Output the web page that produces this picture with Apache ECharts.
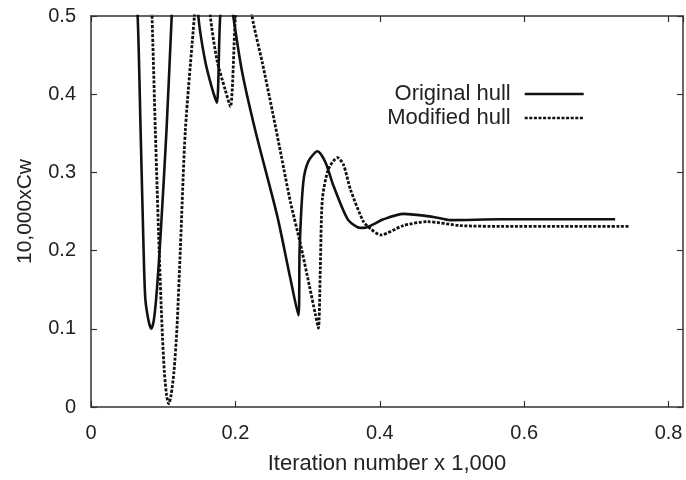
<!DOCTYPE html>
<html>
<head>
<meta charset="utf-8">
<script src="https://cdn.jsdelivr.net/npm/echarts@6/dist/echarts.min.js"></script>
<style>
  html, body { margin: 0; padding: 0; background: #fff; }
  #main { width: 686px; height: 480px; }
</style>
</head>
<body>
<div id="main"></div>
<script>
// iteration number (x 1,000) and 10,000 x Cw
// points above 0.5 are off the plot and get clipped
var origX = [0.0564, 0.0646, 0.0687, 0.0728, 0.0752, 0.0798, 0.0836, 0.0872, 0.0913, 0.0964, 0.1046, 0.1118, 0.118,
  0.130, 0.1426, 0.1487, 0.158, 0.1672, 0.1744, 0.179, 0.188, 0.197, 0.209, 0.228, 0.2578, 0.276, 0.2873,
  0.289, 0.294, 0.301, 0.3137, 0.3247, 0.3358, 0.355, 0.369, 0.3774, 0.405, 0.433, 0.4744, 0.498, 0.567, 0.637, 0.726];
var origY = [0.62, 0.50, 0.354, 0.203, 0.139, 0.110, 0.100, 0.112, 0.150, 0.22, 0.354, 0.50, 0.62,
  0.70, 0.62, 0.50, 0.443, 0.409, 0.389, 0.50, 0.56, 0.50, 0.43, 0.352, 0.245, 0.165, 0.117,
  0.203, 0.287, 0.314, 0.327, 0.313, 0.283, 0.241, 0.230, 0.229, 0.240, 0.247, 0.243, 0.239, 0.240, 0.240, 0.240];

var modX = [0.080, 0.0845, 0.0891, 0.0944, 0.0985, 0.1016, 0.1047, 0.1076, 0.1109, 0.1149, 0.119, 0.1238, 0.1307, 0.1432,
  0.150, 0.158, 0.1653, 0.1746, 0.1861, 0.1931, 0.200, 0.207, 0.214, 0.2231, 0.2374, 0.2513, 0.2638, 0.2763, 0.2902,
  0.3025, 0.3109, 0.315, 0.3177, 0.3205, 0.3288, 0.3413, 0.3497, 0.3594, 0.3774, 0.3871, 0.401, 0.4328, 0.4657,
  0.5118, 0.567, 0.65, 0.745];
var modY = [0.60, 0.50, 0.354, 0.20, 0.10, 0.045, 0.015, 0.004, 0.015, 0.045, 0.10, 0.203, 0.354, 0.50,
  0.58, 0.60, 0.50, 0.443, 0.405, 0.384, 0.50, 0.58, 0.58, 0.50, 0.44, 0.378, 0.32, 0.262, 0.208,
  0.155, 0.118, 0.101, 0.18, 0.266, 0.304, 0.319, 0.31, 0.278, 0.237, 0.228, 0.220, 0.232, 0.237,
  0.232, 0.231, 0.231, 0.231];

var seriesNames = ['Original hull', 'Modified hull'];
var xTicks = [0, 0.2, 0.4, 0.6, 0.8];
var yTicks = [0, 0.1, 0.2, 0.3, 0.4, 0.5];

function pairs(xs, ys) {
  var out = [];
  for (var i = 0; i < xs.length; i++) out.push([xs[i], ys[i]]);
  return out;
}

var font = '"Liberation Sans", Arial, Helvetica, sans-serif';
var frame = { show: true, onZero: false, lineStyle: { color: '#333', width: 1.5 } };
var ticksIn = { show: true, inside: true, length: 6, lineStyle: { color: '#333', width: 1.2 } };

var myChart = echarts.init(document.getElementById('main'), null, { renderer: 'canvas' });
myChart.setOption({
  backgroundColor: '#fff',
  animation: false,
  textStyle: { fontFamily: font },
  grid: { left: 91, right: 3, top: 16, bottom: 70 },
  legend: {
    orient: 'vertical',
    align: 'right',
    right: 96,
    top: 78,
    itemWidth: 59,
    itemHeight: 14,
    itemGap: 2,
    // hide the marker dot, keep only the line sample
    itemStyle: { color: 'rgba(0,0,0,0)', borderWidth: 0, opacity: 0 },
    lineStyle: { width: 2.6 },
    textStyle: { fontSize: 22, color: '#222', fontFamily: font, padding: [0, 9, 0, 0] },
    data: seriesNames
  },
  xAxis: [
    {
      type: 'value', position: 'bottom', min: 0, max: 0.82, interval: 0.2,
      name: 'Iteration number x 1,000', nameLocation: 'middle', nameGap: 46,
      nameTextStyle: { fontSize: 22, color: '#222', fontFamily: font },
      axisLine: frame, axisTick: ticksIn, splitLine: { show: false },
      axisLabel: {
        fontSize: 20, color: '#222', margin: 16, showMaxLabel: false,
        formatter: function (v) { return xTicks.indexOf(+v.toFixed(1)) >= 0 ? String(+v.toFixed(1)) : ''; }
      }
    },
    {
      type: 'value', position: 'top', min: 0, max: 0.82, interval: 0.2,
      axisLine: frame, axisTick: ticksIn, axisLabel: { show: false }, splitLine: { show: false }
    }
  ],
  yAxis: [
    {
      type: 'value', position: 'left', min: 0, max: 0.5, interval: 0.1,
      name: '10,000xCw', nameLocation: 'middle', nameGap: 55,
      nameTextStyle: { fontSize: 21, color: '#222', fontFamily: font },
      axisLine: frame, axisTick: ticksIn, splitLine: { show: false },
      axisLabel: {
        fontSize: 20, color: '#222', margin: 15,
        formatter: function (v) { return yTicks.indexOf(+v.toFixed(1)) >= 0 ? String(+v.toFixed(1)) : ''; }
      }
    },
    {
      type: 'value', position: 'right', min: 0, max: 0.5, interval: 0.1,
      axisLine: frame, axisTick: ticksIn, axisLabel: { show: false }, splitLine: { show: false }
    }
  ],
  series: [
    {
      name: seriesNames[0], type: 'line', data: pairs(origX, origY),
      symbol: 'none', smooth: 0.25, clip: true,
      lineStyle: { color: '#111', width: 2.6 },
      itemStyle: { color: '#111' }
    },
    {
      name: seriesNames[1], type: 'line', data: pairs(modX, modY),
      symbol: 'none', smooth: 0.25, clip: true,
      lineStyle: { color: '#111', width: 2.8, type: [3, 1.6] },
      itemStyle: { color: '#111' }
    }
  ]
});
</script>
</body>
</html>
